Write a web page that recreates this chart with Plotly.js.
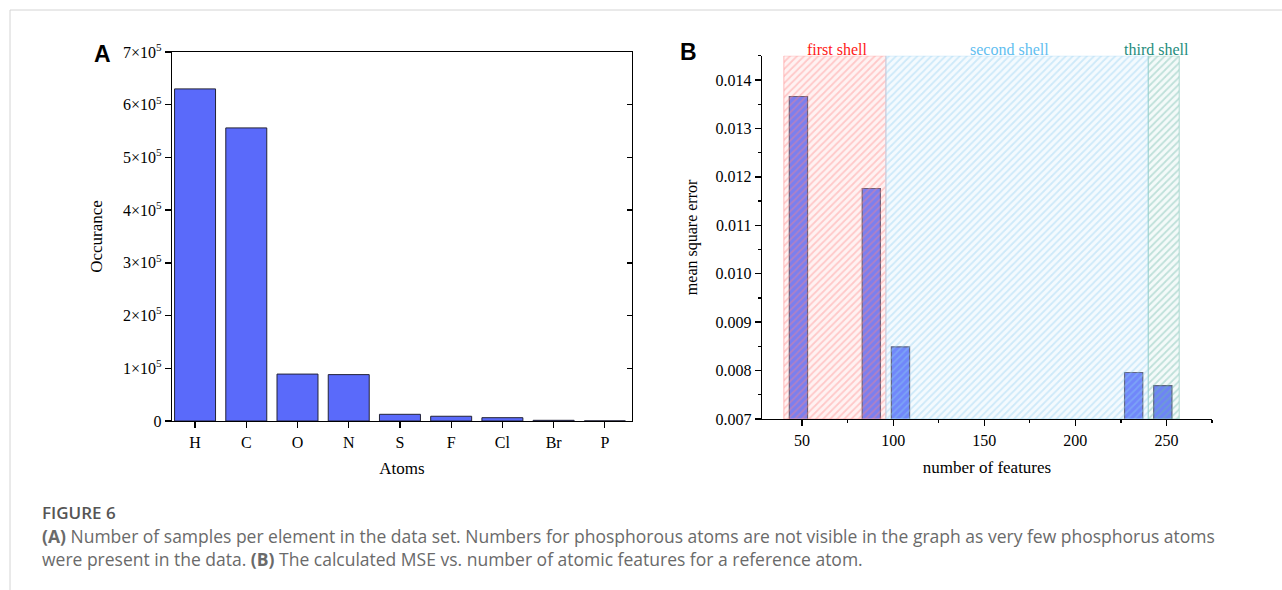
<!DOCTYPE html>
<html>
<head>
<meta charset="utf-8">
<script src="https://cdn.plot.ly/plotly-3.0.1.min.js"></script>
<style>html,body{margin:0;padding:0;background:#fff;} #chart{width:1282px;height:590px;}</style>
</head>
<body>
<div id="chart"></div>
<script>
// Panel A data
const atoms = ['H', 'C', 'O', 'N', 'S', 'F', 'Cl', 'Br', 'P'];
const occurance = [630000, 556000, 89000, 88000, 12700, 9000, 6300, 1300, 200];
const occTickVals = [0, 100000, 200000, 300000, 400000, 500000, 600000, 700000];
const occTickText = ['0', '1×10<sup>5</sup>', '2×10<sup>5</sup>', '3×10<sup>5</sup>', '4×10<sup>5</sup>', '5×10<sup>5</sup>', '6×10<sup>5</sup>', '7×10<sup>5</sup>'];

// Panel B data
const features = [48, 88, 104, 232, 248];
const mse = [0.01366, 0.01176, 0.00849, 0.00796, 0.00769];
const shellNames = ['first shell', 'second shell', 'third shell'];
const shellStart = [40, 96, 240];
const shellEnd = [96, 240, 257];
const shellBottom = 0.007;
const shellTop = 0.0145;

const serif = 'Liberation Serif, Times New Roman, serif';
const shellFg = ['rgba(255,130,130,0.38)', 'rgba(140,205,240,0.38)', 'rgba(110,185,170,0.40)'];
const shellBg = ['rgba(255,175,175,0.16)', 'rgba(185,228,248,0.16)', 'rgba(175,222,212,0.14)'];
const shellLine = ['rgba(255,165,165,0.75)', 'rgba(175,222,245,0.75)', 'rgba(150,205,195,0.75)'];
const shellText = ['rgb(255,25,25)', 'rgb(95,190,240)', 'rgb(30,140,125)'];
const shellLabelShift = [3, -8, -7];

const traces = [];
traces.push({
  type: 'bar', x: atoms, y: occurance, xaxis: 'x', yaxis: 'y',
  marker: {color: 'rgb(90,106,250)', line: {color: 'rgb(35,35,55)', width: 1}},
  hoverinfo: 'x+y', showlegend: false
});
traces.push({type: 'scatter', x: [], y: [], xaxis: 'x', yaxis: 'y3', showlegend: false});
traces.push({
  type: 'bar', x: features, y: mse, width: 10, xaxis: 'x2', yaxis: 'y2',
  marker: {color: 'rgb(98,118,250)', line: {color: 'rgb(80,80,110)', width: 1.2}},
  showlegend: false
});
for (let i = 0; i < shellNames.length; i++) {
  traces.push({
    type: 'bar', name: shellNames[i],
    x: [(shellStart[i] + shellEnd[i]) / 2], width: [shellEnd[i] - shellStart[i]],
    base: [shellBottom], y: [shellTop - shellBottom],
    xaxis: 'x2', yaxis: 'y2', showlegend: false, hoverinfo: 'name',
    marker: {
      color: shellBg[i],
      line: {color: shellLine[i], width: 1},
      pattern: {shape: '/', size: 5, solidity: 0.35, fgcolor: shellFg[i], bgcolor: shellBg[i], fillmode: 'replace'}
    }
  });
}

const annotations = [
  {text: '<b>A</b>', xref: 'paper', yref: 'paper', x: 102/1282, y: 1 - 54/590, xanchor: 'center', yanchor: 'middle', showarrow: false, font: {family: 'Liberation Sans, Arial', size: 23, color: '#000'}},
  {text: '<b>B</b>', xref: 'paper', yref: 'paper', x: 688/1282, y: 1 - 52/590, xanchor: 'center', yanchor: 'middle', showarrow: false, font: {family: 'Liberation Sans, Arial', size: 23, color: '#000'}},
  {text: 'FIGURE 6', xref: 'paper', yref: 'paper', x: 40/1282, y: 1 - 512/590, xanchor: 'left', yanchor: 'middle', showarrow: false, font: {family: 'Open Sans', size: 17, color: '#555', weight: 600}},
  {text: '<b>(A)</b> Number of samples per element in the data set. Numbers for phosphorous atoms are not visible in the graph as very few phosphorus atoms', xref: 'paper', yref: 'paper', x: 40/1282, y: 1 - 536/590, xanchor: 'left', yanchor: 'middle', showarrow: false, font: {family: 'Open Sans', size: 17.5, color: '#6a6a6a'}},
  {text: 'were present in the data. <b>(B)</b> The calculated MSE vs. number of atomic features for a reference atom.', xref: 'paper', yref: 'paper', x: 40/1282, y: 1 - 559/590, xanchor: 'left', yanchor: 'middle', showarrow: false, font: {family: 'Open Sans', size: 17.5, color: '#6a6a6a'}}
];
for (let i = 0; i < shellNames.length; i++) {
  annotations.push({
    text: shellNames[i], xref: 'x2', yref: 'paper',
    x: (shellStart[i] + shellEnd[i]) / 2, xshift: shellLabelShift[i], y: 1 - 49/590,
    xanchor: 'center', yanchor: 'middle', showarrow: false,
    font: {family: serif, size: 16, color: shellText[i]}
  });
}

const layout = {
  width: 1282, height: 590,
  margin: {l: 0, r: 0, t: 0, b: 0},
  paper_bgcolor: '#fff', plot_bgcolor: 'rgba(0,0,0,0)',
  barmode: 'overlay', bargap: 0.2,
  font: {family: serif, color: '#000'},
  xaxis: {
    domain: [172/1282, 632/1282], anchor: 'y',
    range: [-0.45, 8.53], type: 'category',
    showline: true, linecolor: '#000', linewidth: 1.3, mirror: true,
    ticks: 'outside', ticklen: 6, tickcolor: '#000', tickwidth: 1.3,
    tickfont: {family: serif, size: 16}, showgrid: false, zeroline: false,
    title: {text: 'Atoms', font: {family: serif, size: 17}, standoff: 12}
  },
  yaxis: {
    domain: [1 - 421/590, 1 - 52/590], anchor: 'x',
    range: [0, 700000], tickvals: occTickVals, ticktext: occTickText,
    showline: true, linecolor: '#000', linewidth: 1.3,
    ticks: 'outside', ticklen: 6, tickcolor: '#000', tickwidth: 1.3,
    tickfont: {family: serif, size: 16}, showgrid: false, zeroline: false,
    title: {text: 'Occurance', font: {family: serif, size: 17}, standoff: 16}
  },
  yaxis3: {
    overlaying: 'y', side: 'right', anchor: 'x',
    range: [0, 700000], tickvals: occTickVals, showticklabels: false,
    showline: true, linecolor: '#000', linewidth: 1.3,
    ticks: 'inside', ticklen: 5, tickcolor: '#000', tickwidth: 1.3,
    showgrid: false, zeroline: false
  },
  xaxis2: {
    domain: [762/1282, 1212/1282], anchor: 'y2',
    range: [28, 275], tickvals: [50, 100, 150, 200, 250],
    showline: true, linecolor: '#000', linewidth: 1.3,
    ticks: 'outside', ticklen: 6, tickcolor: '#000', tickwidth: 1.3,
    minor: {dtick: 25, tick0: 25, ticks: 'outside', ticklen: 3, tickcolor: '#000', tickwidth: 1.3},
    tickfont: {family: serif, size: 16}, showgrid: false, zeroline: false,
    title: {text: 'number of features', font: {family: serif, size: 17}, standoff: 13}
  },
  yaxis2: {
    domain: [1 - 419/590, 1 - 55.8/590], anchor: 'x2',
    range: [0.007, 0.0145], dtick: 0.001, tick0: 0.007, tickformat: '.3f',
    showline: true, linecolor: '#000', linewidth: 1.3,
    ticks: 'outside', ticklen: 6, tickcolor: '#000', tickwidth: 1.3,
    minor: {dtick: 0.0005, tick0: 0.007, ticks: 'outside', ticklen: 3, tickcolor: '#000', tickwidth: 1.3},
    tickfont: {family: serif, size: 16}, showgrid: false, zeroline: false,
    title: {text: 'mean square error', font: {family: serif, size: 16}, standoff: 14}
  },
  shapes: [
    {type: 'line', xref: 'paper', yref: 'paper', x0: 10/1282, x1: 1, y0: 1 - 10/590, y1: 1 - 10/590, line: {color: '#d4d4d4', width: 1}},
    {type: 'line', xref: 'paper', yref: 'paper', x0: 10/1282, x1: 10/1282, y0: 0, y1: 1 - 10/590, line: {color: '#d4d4d4', width: 1}}
  ],
  annotations: annotations
};

Plotly.newPlot('chart', traces, layout, {displayModeBar: false, staticPlot: true});
</script>
</body>
</html>
